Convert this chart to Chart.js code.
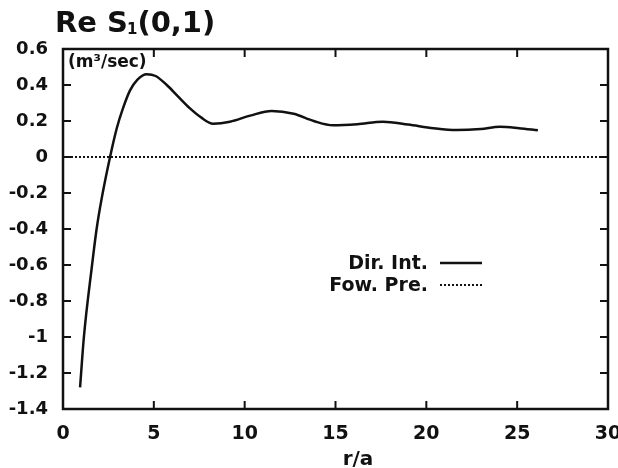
<!DOCTYPE html>
<html>
<head>
<meta charset="utf-8">
<script src="https://cdn.jsdelivr.net/npm/chart.js@4/dist/chart.umd.min.js"></script>
<style>
  html, body { margin: 0; padding: 0; background: #fff; }
  #wrap { width: 618px; height: 468px; }
</style>
</head>
<body>
<div id="wrap"><canvas id="reS1"></canvas></div>
<script>
// r/a positions and Re S1(0,1) values, direct integration
const dirX = [0.94, 1.15, 1.6, 1.85, 2.13, 2.59, 2.96, 3.3, 3.69, 4.1, 4.61, 5.1, 5.71, 6.3, 6.99, 7.6, 8.26,
              9.19, 10.3, 11.49, 12.7, 13.8, 14.86, 16.2, 17.61, 19.0, 20.4, 21.67, 23.0, 24.05, 25.1, 26.14];
const dirY = [-1.28, -1.0, -0.6, -0.4, -0.23, 0.0, 0.16, 0.27, 0.37, 0.43, 0.46, 0.45, 0.40, 0.34, 0.27, 0.22, 0.185,
              0.196, 0.23, 0.256, 0.24, 0.2, 0.176, 0.182, 0.196, 0.18, 0.16, 0.15, 0.156, 0.168, 0.16, 0.148];
// forward prediction
const fowX = [0, 30];
const fowY = [0, 0];

const xTicks = [0, 5, 10, 15, 20, 25, 30];
const yTicks = [0.6, 0.4, 0.2, 0, -0.2, -0.4, -0.6, -0.8, -1, -1.2, -1.4];

const FONT = '"DejaVu Sans", Verdana, sans-serif';

const pts = (xs, ys) => xs.map((x, i) => ({ x: x, y: ys[i] }));

// frame, inward ticks on all four sides, title, units, x label and legend
const decor = {
  id: 'decor',
  afterDatasetsDraw(chart) {
    const ctx = chart.ctx;
    const a = chart.chartArea;
    const xs = chart.scales.x, ys = chart.scales.y;
    ctx.save();
    ctx.strokeStyle = '#111';
    ctx.lineWidth = 2.5;
    ctx.strokeRect(a.left, a.top, a.right - a.left, a.bottom - a.top);

    ctx.lineWidth = 2;
    ctx.beginPath();
    xTicks.forEach(v => {
      const px = xs.getPixelForValue(v);
      ctx.moveTo(px, a.bottom); ctx.lineTo(px, a.bottom - 8);
      ctx.moveTo(px, a.top); ctx.lineTo(px, a.top + 8);
    });
    yTicks.forEach(v => {
      const py = ys.getPixelForValue(v);
      ctx.moveTo(a.left, py); ctx.lineTo(a.left + 8, py);
      ctx.moveTo(a.right, py); ctx.lineTo(a.right - 8, py);
    });
    ctx.stroke();

    // title Re S1(0,1)
    ctx.fillStyle = '#111';
    ctx.textBaseline = 'alphabetic';
    ctx.textAlign = 'left';
    ctx.font = 'bold 29px ' + FONT;
    let tx = 55;
    ctx.fillText('Re S', tx, 32);
    tx += ctx.measureText('Re S').width;
    ctx.font = 'bold 15px ' + FONT;
    ctx.fillText('1', tx - 1, 34);
    tx += ctx.measureText('1').width - 1;
    ctx.font = 'bold 29px ' + FONT;
    ctx.fillText('(0,1)', tx, 32);

    // units
    ctx.font = 'bold 17px ' + FONT;
    ctx.fillText('(m\u00b3/sec)', a.left + 5, a.top + 18);

    // x axis label
    ctx.font = 'bold 20px ' + FONT;
    ctx.textAlign = 'center';
    ctx.fillText('r/a', 358, 465);

    // legend
    ctx.font = 'bold 19px ' + FONT;
    ctx.textAlign = 'right';
    chart.data.datasets.forEach((ds, i) => {
      const ly = 263 + i * 22;
      ctx.fillText(ds.label, 428, ly + 6);
      ctx.beginPath();
      ctx.strokeStyle = ds.borderColor;
      ctx.lineWidth = ds.borderWidth;
      ctx.setLineDash(ds.borderDash || []);
      ctx.moveTo(440, ly); ctx.lineTo(482, ly);
      ctx.stroke();
    });
    ctx.restore();
  }
};

new Chart(document.getElementById('reS1'), {
  type: 'line',
  data: {
    datasets: [
      {
        label: 'Dir. Int.',
        data: pts(dirX, dirY),
        borderColor: '#111',
        borderWidth: 2.5,
        pointRadius: 0,
        cubicInterpolationMode: 'monotone',
        fill: false
      },
      {
        label: 'Fow. Pre.',
        data: pts(fowX, fowY),
        borderColor: '#111',
        borderWidth: 2,
        borderDash: [2, 2],
        pointRadius: 0,
        fill: false
      }
    ]
  },
  options: {
    responsive: true,
    maintainAspectRatio: false,
    animation: false,
    layout: { padding: { top: 49, right: 10, left: 0, bottom: 0 } },
    plugins: {
      legend: { display: false },
      title: { display: false },
      tooltip: { enabled: false }
    },
    scales: {
      x: {
        type: 'linear',
        min: 0, max: 30,
        afterBuildTicks: s => { s.ticks = xTicks.map(v => ({ value: v })); },
        afterFit: s => { s.height = 59; s.paddingLeft = 0; s.paddingRight = 0; },
        grid: { display: false, drawTicks: false },
        border: { display: false },
        ticks: { color: '#111', padding: 14, maxRotation: 0, font: { family: FONT, size: 19, weight: 'bold' } }
      },
      y: {
        type: 'linear',
        min: -1.4, max: 0.6,
        afterBuildTicks: s => { s.ticks = yTicks.map(v => ({ value: v })); },
        afterFit: s => { s.width = 63; s.paddingTop = 0; s.paddingBottom = 0; },
        grid: { display: false, drawTicks: false },
        border: { display: false },
        ticks: { color: '#111', padding: 15, font: { family: FONT, size: 18, weight: 'bold' },
                 callback: v => String(v) }
      }
    }
  },
  plugins: [decor]
});
</script>
</body>
</html>
